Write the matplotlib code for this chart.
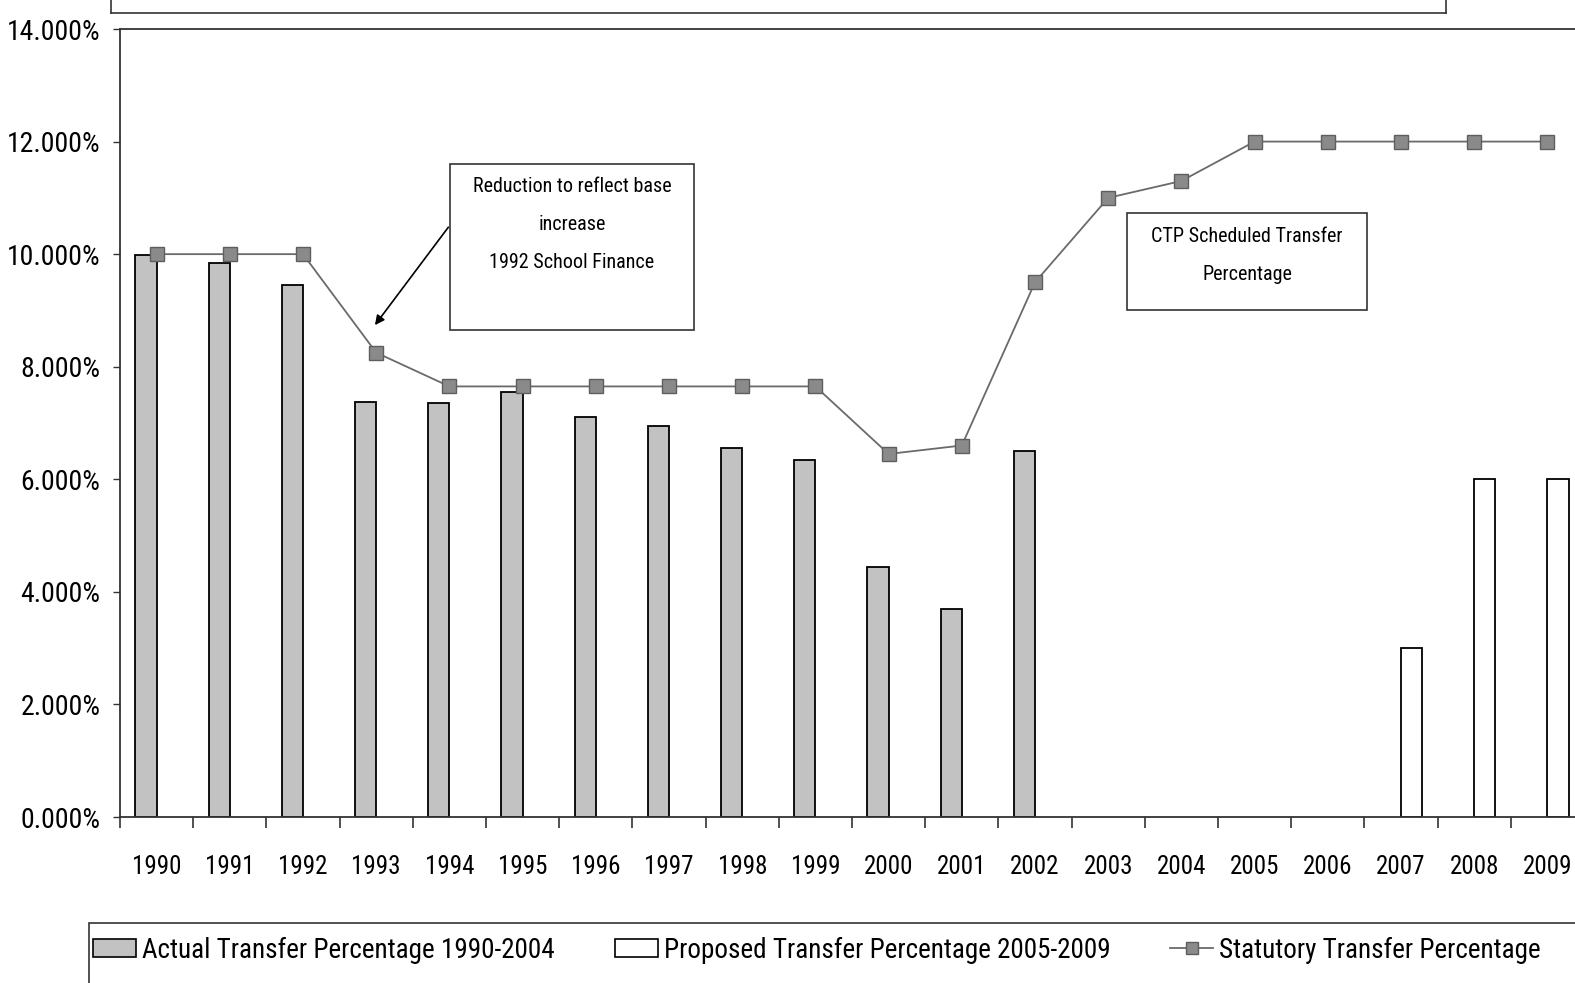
import numpy as np
import matplotlib
matplotlib.use("Agg")
import matplotlib.pyplot as plt
from matplotlib.patches import Rectangle, Patch
from matplotlib.lines import Line2D

plt.rcParams['font.family'] = ['Roboto Condensed', 'Liberation Sans', 'DejaVu Sans']

years = [str(y) for y in range(1990, 2010)]
actual = [9.98, 9.85, 9.45, 7.38, 7.35, 7.55, 7.10, 6.95, 6.55, 6.35, 4.45, 3.70, 6.50,
          np.nan, np.nan, np.nan, np.nan, np.nan, np.nan, np.nan]
proposed = [np.nan] * 17 + [3.0, 6.0, 6.0]
statutory = [10.0, 10.0, 10.0, 8.25, 7.65, 7.65, 7.65, 7.65, 7.65, 7.65,
             6.45, 6.6, 9.5, 11.0, 11.3, 12.0, 12.0, 12.0, 12.0, 12.0]

W, H = 1575, 983
fig = plt.figure(figsize=(W / 100, H / 100), dpi=100)

def px(x, y):
    # pixel position -> figure fraction
    return x / W, 1 - y / H

ax_l, ax_t, ax_b, ax_r = 120, 29, 817, 1584
ax = fig.add_axes([ax_l / W, 1 - ax_b / H, (ax_r - ax_l) / W, (ax_b - ax_t) / H])

x = np.arange(len(years))
w = 0.29
ax.bar(x - w, actual, width=w, align='edge', color='#c2c2c2', edgecolor='black', linewidth=1.3, zorder=2)
ax.bar(x, proposed, width=w, align='edge', color='white', edgecolor='black', linewidth=1.3, zorder=2)
ax.plot(x, statutory, color='#6a6a6a', linewidth=1.3, marker='s', markersize=10.5,
        markerfacecolor='#8a8a8a', markeredgecolor='#5e5e5e', zorder=3)

ax.set_xlim(-0.5, len(years) - 0.5)
ax.set_ylim(0, 14)
ax.set_yticks(np.arange(0, 15, 2))
ax.set_yticklabels(['%.3f%%' % v for v in np.arange(0, 15, 2)], fontsize=20)
ax.set_xticks(x)
ax.set_xticklabels(years, fontsize=18)
ax.set_xticks(np.arange(-0.5, len(years)), minor=True)
ax.tick_params(axis='x', which='major', length=0, pad=27)
ax.tick_params(axis='x', which='minor', length=8, width=1.2, color='#333333', direction='out')
ax.tick_params(axis='y', length=5, width=1.0, color='#333333', pad=9)
for s in ax.spines.values():
    s.set_color('#333333')
    s.set_linewidth(1.3)

# note on the 1993 drop
x0, y0 = px(450, 164)
x1, y1 = px(694, 330)
fig.patches.append(Rectangle((x0, y1), x1 - x0, y0 - y1, transform=fig.transFigure,
                             fill=False, edgecolor='#333333', linewidth=1.2))
fig.text((x0 + x1) / 2, px(0, 177)[1], "Reduction to reflect base\nincrease\n1992 School Finance",
         ha='center', va='top', fontsize=14.5, linespacing=2.25)
ax.annotate("", xy=(2.96, 8.7), xytext=px(450, 225), textcoords='figure fraction',
            arrowprops=dict(arrowstyle='-|>', color='black', lw=1.2, mutation_scale=14))

# CTP note
x0, y0 = px(1127, 213)
x1, y1 = px(1367, 310)
fig.patches.append(Rectangle((x0, y1), x1 - x0, y0 - y1, transform=fig.transFigure,
                             fill=False, edgecolor='#333333', linewidth=1.2))
fig.text((x0 + x1) / 2, px(0, 227)[1], "CTP Scheduled Transfer\nPercentage",
         ha='center', va='top', fontsize=14.5, linespacing=2.25)

# title frame cut at the top edge
fig.add_artist(Line2D([111 / W, 1446 / W], [px(0, 13)[1]] * 2, transform=fig.transFigure,
                      color='#333333', linewidth=1.2))
for xv in (111, 1446):
    fig.add_artist(Line2D([xv / W] * 2, [px(0, 13)[1], 1.0], transform=fig.transFigure,
                          color='#333333', linewidth=1.2))

# legend frame runs off the bottom and right edges
lx, ly = px(89, 923)
fig.patches.append(Rectangle((lx, -0.05), 1.1 - lx, ly + 0.05, transform=fig.transFigure,
                             fill=False, edgecolor='#333333', linewidth=1.2))
handles = [Patch(facecolor='#c2c2c2', edgecolor='black', linewidth=1.2),
           Patch(facecolor='white', edgecolor='black', linewidth=1.2),
           Line2D([], [], color='#6a6a6a', linewidth=1.3, marker='s', markersize=8,
                  markerfacecolor='#8a8a8a', markeredgecolor='#5e5e5e')]
labels = ['Actual Transfer Percentage 1990-2004',
          'Proposed Transfer Percentage 2005-2009',
          'Statutory Transfer Percentage']
leg = fig.legend(handles, labels, loc='center left', bbox_to_anchor=px(85, 950), ncol=3,
                 fontsize=19.5, frameon=False, handlelength=1.6, handleheight=0.6,
                 handletextpad=0.22, columnspacing=2.2, borderpad=0.3, borderaxespad=0)

fig.savefig('out.png', dpi=100)
